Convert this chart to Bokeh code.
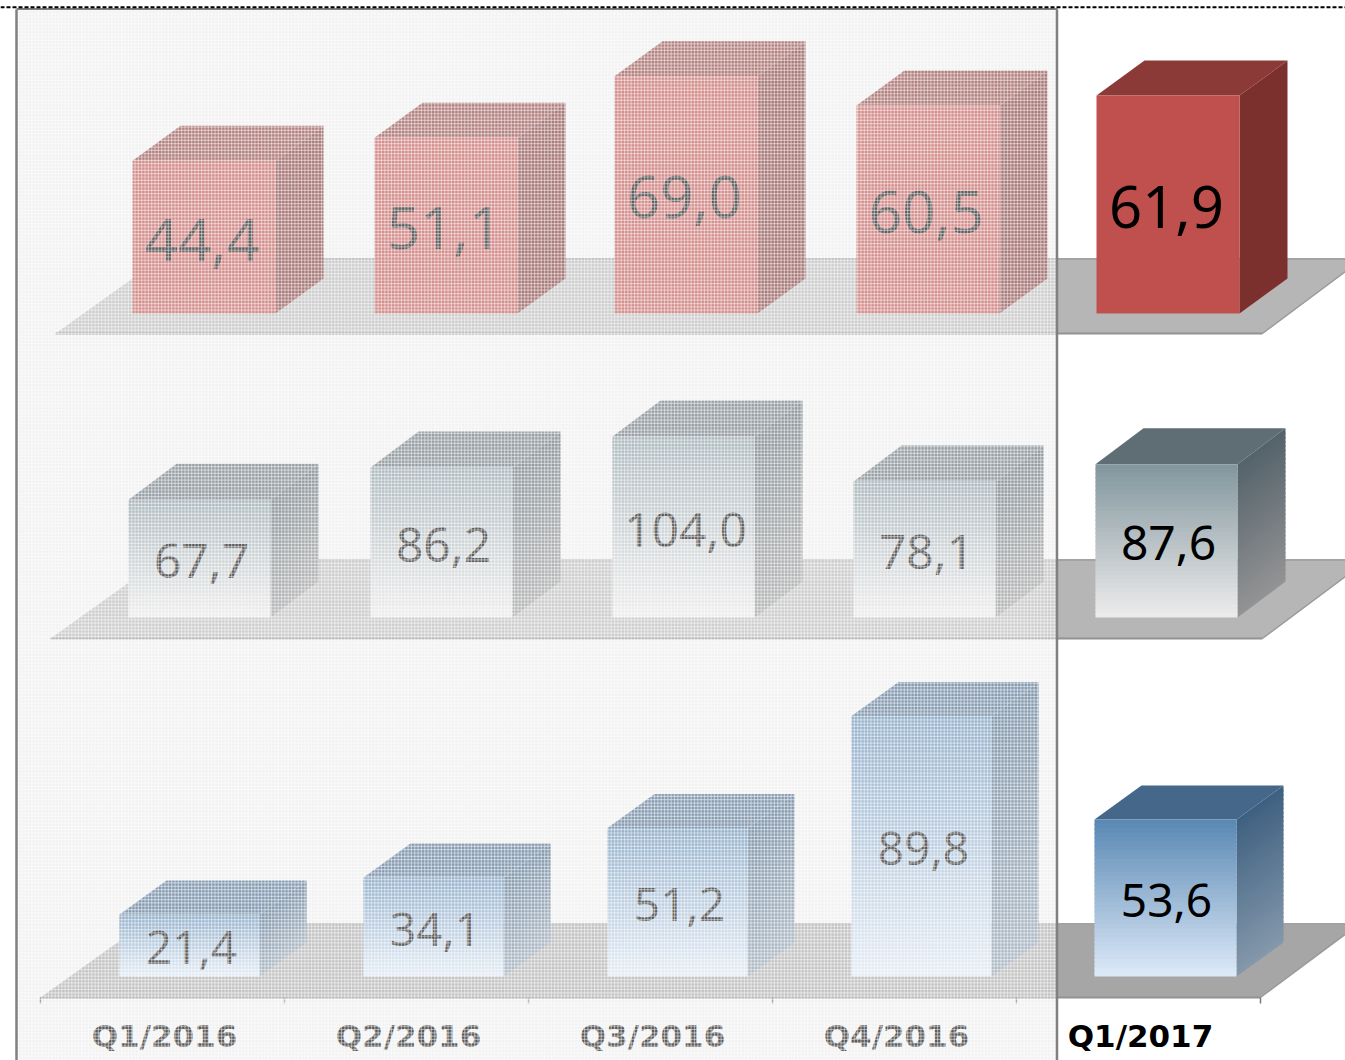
from bokeh.plotting import figure
from bokeh.embed import file_html
from bokeh.resources import INLINE
from bokeh.core.properties import value
from bokeh.models import Range1d
import numpy as np

# ---- data ----
quarters = ["Q1/2016", "Q2/2016", "Q3/2016", "Q4/2016", "Q1/2017"]
red_values = [44.4, 51.1, 69.0, 60.5, 61.9]
grey_values = [67.7, 86.2, 104.0, 78.1, 87.6]
blue_values = [21.4, 34.1, 51.2, 89.8, 53.6]


def label(v):
    return f"{v:.1f}".replace(".", ",")


def hex2rgb(h):
    return np.array([int(h[i:i + 2], 16) for i in (1, 3, 5)], float)


def mix(a, b, t):
    c = hex2rgb(a) * (1 - t) + hex2rgb(b) * t
    return "#%02x%02x%02x" % tuple(int(round(x)) for x in c)


# ---- row styles ----
rows = [
    dict(values=red_values, fronts=[132, 374, 614, 856, 1096], w=[143] * 5, base=313, dx=48, dy=35,
         scale=[3.44] * 4 + [3.52], floor=(258, 333, 55, 1262), floor_col="#b6b6b6",
         front=("#c0504d", "#c0504d"), side=("#7b302e", "#7b302e"), top="#8c3a38", off=70, font="58px"),
    dict(values=grey_values, fronts=[128, 370, 612, 853, 1095], w=[142] * 5, base=617, dx=48, dy=36,
         scale=[1.74] * 4 + [1.75], floor=(559, 638, 50, 1262), floor_col="#b6b6b6",
         front=("#83979f", "#efeded"), side=("#55636b", "#949495"), top="#5f6d75", off=73, font="48px"),
    dict(values=blue_values, fronts=[119, 363, 607, 851, 1094], w=[140] * 4 + [142], base=976, dx=47, dy=34,
         scale=[2.9] * 4 + [2.93], floor=(923, 997, 40, 1260), floor_col="#a6a6a6",
         front=("#5b89b4", "#dfebf9"), side=("#3f6181", "#8699ac"), top="#44678a", off=72, font="46px"),
]

PANEL_L, PANEL_R, PANEL_T = 17, 1056, 9
SCREEN_B = 1060

p = figure(width=1345, height=1060, x_range=Range1d(0, 1345), y_range=Range1d(1060, 0),
           toolbar_location=None, output_backend="svg", min_border=0,
           outline_line_color=None, background_fill_color="white", border_fill_color="white")
p.xaxis.visible = False
p.yaxis.visible = False
p.xgrid.visible = False
p.ygrid.visible = False

# panel backdrop
p.quad(left=PANEL_L, right=PANEL_R, top=PANEL_T, bottom=SCREEN_B, fill_color="#f2f2f2", line_color=None)


def bands(h, pair):
    """Number of gradient steps: a flat face needs just one."""
    return 1 if pair[0] == pair[1] else 36


for r in rows:
    back, front, fl, fr = r["floor"]
    slope_l = 1.4
    slope_r = 1.34
    d = front - back
    p.patch([fl, fl + slope_l * d, fr + slope_r * d, fr], [front, back, back, front],
            fill_color=r["floor_col"], line_color=None)
    p.line([fl + slope_l * d, fr + slope_r * d], [back + 0.5, back + 0.5], line_color="#a3a3a3", line_width=2)
    p.line([fl, fr], [front, front], line_color="#929292", line_width=2)
    p.line([fr, fr + slope_r * d], [front, back], line_color="#9a9a9a", line_width=1.5)

    xs_all, ys_all, cols = [], [], []
    for v, x0, sc, w in zip(r["values"], r["fronts"], r["scale"], r["w"]):
        h = v * sc
        b, dx, dy = r["base"], r["dx"], r["dy"]
        t = b - h
        # top face
        xs_all.append([x0, x0 + dx, x0 + w + dx, x0 + w])
        ys_all.append([t, t - dy, t - dy, t])
        cols.append(r["top"])
        # side face
        n = bands(h, r["side"])
        for i in range(n):
            y0, y1 = t + h * i / n, min(b, t + h * (i + 1) / n + 1.5)
            xs_all.append([x0 + w, x0 + w + dx, x0 + w + dx, x0 + w])
            ys_all.append([y0, y0 - dy, y1 - dy, y1])
            cols.append(mix(r["side"][0], r["side"][1], i / n))
        # front face
        n = bands(h, r["front"])
        for i in range(n):
            y0, y1 = t + h * i / n, min(b, t + h * (i + 1) / n + 1.5)
            xs_all.append([x0, x0 + w, x0 + w, x0])
            ys_all.append([y0, y0, y1, y1])
            cols.append(mix(r["front"][0], r["front"][1], i / n))
    p.patches(xs_all, ys_all, fill_color=cols, line_color=None)

    tx = [x0 + r["off"] for x0 in r["fronts"]]
    ty = [r["base"] - v * sc / 2 + 2.5 for v, sc in zip(r["values"], r["scale"])]
    p.text(tx, ty, text=[label(v) for v in r["values"]], text_color="#000000",
           text_font=value("Noto Sans"), text_font_size=r["font"],
           text_align="center", text_baseline="middle")

# category axis
AX_L, STEP, AX_Y = 40, 244, 997
tick_x = [AX_L + STEP * i for i in range(6)]
p.segment(tick_x, [AX_Y] * 6, tick_x, [AX_Y + 6] * 6, line_color="#777777", line_width=1.5)
p.text([AX_L + STEP * i + 124 for i in range(4)] + [1140], [1035] * 5, text=quarters, text_color="#000000",
       text_font=value("DejaVu Sans"), text_font_style="bold", text_font_size="31px",
       text_align="center", text_baseline="middle")

# fade of the past quarters: veil and fine texture
p.quad(left=PANEL_L, right=PANEL_R, top=PANEL_T, bottom=SCREEN_B, fill_color="#f3f3f3", fill_alpha=0.38, line_color=None)
gx = np.arange(PANEL_L + 1, PANEL_R, 3.33)
gy = np.arange(PANEL_T + 1, SCREEN_B, 3.33)
p.multi_line([[x, x] for x in gx], [[PANEL_T, SCREEN_B] for _ in gx], line_color="#ffffff", line_alpha=0.45, line_width=1.2)
p.multi_line([[PANEL_L, PANEL_R] for _ in gy], [[y, y] for y in gy], line_color="#ffffff", line_alpha=0.45, line_width=1.2)

# frame and dashed top line
p.line([PANEL_L - 1, PANEL_L - 1], [PANEL_T, SCREEN_B], line_color="#808080", line_width=2.5)
p.line([PANEL_R + 0.5, PANEL_R + 0.5], [PANEL_T, SCREEN_B], line_color="#808080", line_width=2.5)
p.line([PANEL_L - 1, PANEL_R + 1], [PANEL_T - 0.5, PANEL_T - 0.5], line_color="#808080", line_width=2)
p.line([0, 1345], [6.8, 6.8], line_color="#000000", line_width=2, line_dash="4 2")

open("out.html", "w").write(file_html(p, INLINE))
